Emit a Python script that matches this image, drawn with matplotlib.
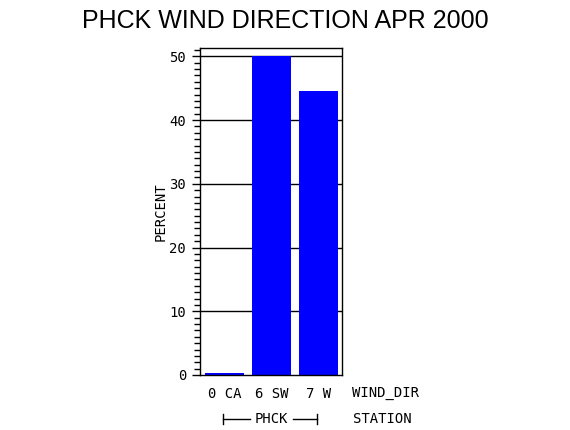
import matplotlib
matplotlib.use('Agg')
import matplotlib.pyplot as plt
from matplotlib.ticker import MultipleLocator

# data
wind_dirs = ['0 CA', '6 SW', '7 W']
percents = [0.3, 50.0, 44.5]
station = 'PHCK'
yticks = [0, 10, 20, 30, 40, 50]

mono = 'DejaVu Sans Mono'

fig = plt.figure(figsize=(5.7, 4.3), dpi=100)
ax = fig.add_axes([200 / 570, 55 / 430, 142 / 570, 327 / 430])

x = range(len(wind_dirs))
ax.bar(x, percents, width=0.83, color='#0000ff', zorder=2)
for t in yticks[1:]:
    ax.axhline(t, color='black', lw=1, zorder=1)

ax.set_xlim(-0.52, 2.5)
ax.set_ylim(0, 51.3)
ax.set_yticks(yticks)
ax.yaxis.set_minor_locator(MultipleLocator(1))
ax.tick_params(axis='y', which='major', length=6, width=1, direction='out',
               labelsize=10, pad=4)
ax.tick_params(axis='y', which='minor', length=4, width=1, direction='out')
for lbl in ax.get_yticklabels():
    lbl.set_family(mono)
ax.set_xticks(list(x))
ax.set_xticklabels(wind_dirs, family=mono, fontsize=10)
ax.tick_params(axis='x', length=0, pad=9)
for s in ax.spines.values():
    s.set_linewidth(1)

ax.set_ylabel('PERCENT', family=mono, fontsize=10, labelpad=1)

fig.text(352 / 570, 1 - 393 / 430, 'WIND_DIR', family=mono, fontsize=10,
         va='center', ha='left')
fig.text(353 / 570, 1 - 419 / 430, 'STATION', family=mono, fontsize=10,
         va='center', ha='left')

# station bracket under the bars
trans = ax.get_xaxis_transform()
yb = -0.135
ax.text(1, yb, station, transform=trans, family=mono, fontsize=10,
        ha='center', va='center')
ax.plot([-0.03, 0.55], [yb, yb], transform=trans, color='black', lw=1, clip_on=False)
ax.plot([-0.03, -0.03], [yb - 0.015, yb + 0.015], transform=trans, color='black',
        lw=1, clip_on=False)
ax.plot([1.45, 1.97], [yb, yb], transform=trans, color='black', lw=1, clip_on=False)
ax.plot([1.97, 1.97], [yb - 0.015, yb + 0.015], transform=trans, color='black',
        lw=1, clip_on=False)

fig.text(0.5, 1 - 21 / 430, 'PHCK WIND DIRECTION APR 2000', ha='center',
         va='center', fontsize=18, family='Liberation Sans')

fig.savefig('out.png', dpi=100)
